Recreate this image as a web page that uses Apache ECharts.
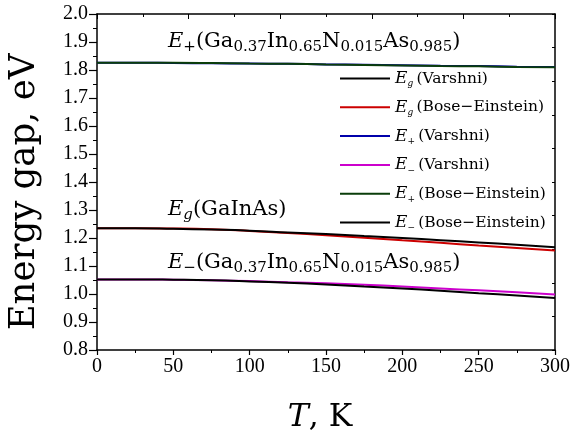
<!DOCTYPE html>
<html><head><meta charset="utf-8">
<script src="https://cdn.jsdelivr.net/npm/echarts@6/dist/echarts.min.js"></script>
<style>html,body{margin:0;padding:0;background:#fff}#c{width:572px;height:434px}</style>
</head><body><div id="c"></div>
<script>
const temps = [0, 25, 50, 75, 100, 125, 150, 175, 200, 225, 250, 275, 300];
const egVarshni = [1.235, 1.235, 1.233, 1.230, 1.226, 1.220, 1.214, 1.207, 1.200, 1.192, 1.184, 1.176, 1.167];
const egBose = [1.235, 1.235, 1.234, 1.231, 1.225, 1.218, 1.210, 1.201, 1.192, 1.183, 1.173, 1.164, 1.155];
const epVarshni = [1.826, 1.826, 1.825, 1.824, 1.823, 1.822, 1.820, 1.819, 1.817, 1.815, 1.814, 1.812, 1.811];
const emVarshni = [1.052, 1.052, 1.051, 1.049, 1.046, 1.042, 1.038, 1.033, 1.027, 1.020, 1.013, 1.006, 0.998];
const epBose = [1.826, 1.826, 1.826, 1.825, 1.823, 1.822, 1.820, 1.818, 1.816, 1.814, 1.813, 1.811, 1.810];
const emBose = [1.052, 1.052, 1.051, 1.049, 1.045, 1.040, 1.034, 1.027, 1.020, 1.012, 1.003, 0.995, 0.986];
const yTicks = ['0.8','0.9','1.0','1.1','1.2','1.3','1.4','1.5','1.6','1.7','1.8','1.9','2.0'];
const seriesNames = ['Eg (Varshni)', 'Eg (Bose-Einstein)', 'E+ (Varshni)', 'E- (Varshni)', 'E+ (Bose-Einstein)', 'E- (Bose-Einstein)'];
const legendLabels = {
  'Eg (Varshni)': '{i|E}{s|g} {t|(Varshni)}',
  'Eg (Bose-Einstein)': '{i|E}{s|g} {t|(Bose\u2212Einstein)}',
  'E+ (Varshni)': '{i|E}{s|+} {t|(Varshni)}',
  'E- (Varshni)': '{i|E}{s|\u2212} {t|(Varshni)}',
  'E+ (Bose-Einstein)': '{i|E}{s|+} {t|(Bose\u2212Einstein)}',
  'E- (Bose-Einstein)': '{i|E}{s|\u2212} {t|(Bose\u2212Einstein)}'
};
const colors = ['#000000', '#cc0000', '#0000aa', '#cc00cc', '#0a3d0a', '#000000'];
const zOrder = [10, 9, 7, 6, 8, 7];
const seriesData = [egVarshni, egBose, epVarshni, emVarshni, epBose, emBose];

const serif = '"Liberation Serif", "DejaVu Serif", serif';
const century = '"DejaVu Serif", "Liberation Serif", serif';
const chart = echarts.init(document.getElementById('c'));

function pairs(arr) { return temps.map((t, i) => [t, arr[i]]); }

const annRich = {
  i: {fontFamily: century, fontStyle: 'italic', fontSize: 21, lineHeight: 26, verticalAlign: 'middle'},
  m: {fontFamily: century, fontSize: 21, lineHeight: 26, verticalAlign: 'middle'},
  s: {fontFamily: century, fontSize: 15, lineHeight: 16, verticalAlign: 'bottom'},
  si: {fontFamily: century, fontStyle: 'italic', fontSize: 15, lineHeight: 16, verticalAlign: 'bottom'}
};
const compound = '{m|(Ga}{s|0.37}{m|In}{s|0.65}{m|N}{s|0.015}{m|As}{s|0.985}{m|)}';

const boxAxis = {
  axisLine: {show: true, onZero: false, lineStyle: {color: '#000', width: 1.5}},
  axisTick: {show: true, inside: true, length: 5, lineStyle: {color: '#000', width: 1}},
  minorTick: {show: true, splitNumber: 2, length: 3, lineStyle: {color: '#000', width: 1}},
  axisLabel: {show: false}, splitLine: {show: false}, minorSplitLine: {show: false}
};

chart.setOption({
  animation: false,
  backgroundColor: '#fff',
  grid: {left: 97, right: 17, top: 14, bottom: 84, containLabel: false, outerBoundsMode: 'none'},
  legend: {
    orient: 'vertical', left: 335, top: 65, itemWidth: 50, itemHeight: 14, itemGap: 10.3,
    icon: 'path://M0,6 L50,6 L50,8 L0,8 Z',
    data: seriesNames,
    formatter: n => legendLabels[n],
    textStyle: {
      color: '#000',
      rich: {
        i: {fontFamily: century, fontStyle: 'italic', fontSize: 17, lineHeight: 20, verticalAlign: 'middle'},
        s: {fontFamily: century, fontStyle: 'italic', fontSize: 9, lineHeight: 11, verticalAlign: 'bottom'},
        t: {fontFamily: century, fontSize: 15.5, lineHeight: 20, verticalAlign: 'middle'}
      }
    }
  },
  xAxis: [{
    type: 'value', min: 0, max: 300, interval: 50, position: 'bottom',
    name: '{i|T}{b|, K}', nameLocation: 'middle', nameGap: 52,
    nameTextStyle: {padding: [0, 12, 0, 0], rich: {
      i: {fontFamily: century, fontStyle: 'italic', fontSize: 31.5, color: '#000'},
      b: {fontFamily: century, fontSize: 31.5, color: '#000'}
    }},
    axisLine: {show: true, onZero: false, lineStyle: {color: '#000', width: 1.5}},
    axisTick: {show: true, inside: false, length: 5, lineStyle: {color: '#000', width: 1.2}},
    minorTick: {show: true, splitNumber: 2, length: 3, lineStyle: {color: '#000', width: 1}},
    axisLabel: {color: '#000', fontFamily: serif, fontSize: 20, margin: 7},
    splitLine: {show: false}
  }, Object.assign({type: 'value', min: 0, max: 300, interval: 60, position: 'top'}, boxAxis)],
  yAxis: [{
    type: 'value', min: 0.8, max: 2.0, interval: 0.1, position: 'left',
    name: 'Energy gap, eV', nameLocation: 'middle', nameGap: 54, nameRotate: 90,
    nameTextStyle: {fontFamily: century, fontSize: 35.5, color: '#000', padding: [0, 20, 0, 0]},
    axisLine: {show: true, onZero: false, lineStyle: {color: '#000', width: 1.5}},
    axisTick: {show: true, inside: false, length: 8, lineStyle: {color: '#000', width: 1.2}},
    minorTick: {show: true, splitNumber: 2, length: 4, lineStyle: {color: '#000', width: 1}},
    axisLabel: {color: '#000', fontFamily: serif, fontSize: 20, margin: 9, formatter: (v) => yTicks[Math.round((v - 0.8) * 10)]},
    splitLine: {show: false}
  }, Object.assign({type: 'value', min: 0, max: 10, interval: 1, position: 'right'}, boxAxis, {minorTick: {show: false}, axisTick: {show: true, inside: true, length: 3, lineStyle: {color: '#000', width: 1}}})],
  series: seriesNames.map((n, k) => ({
    name: n, type: 'line', xAxisIndex: 0, yAxisIndex: 0, data: pairs(seriesData[k]),
    showSymbol: false, smooth: true, color: colors[k],
    lineStyle: {color: colors[k], width: 2}, z: zOrder[k]
  })),
  graphic: [
    {type: 'text', left: 168, top: 31, z: 100, style: {text: '{i|E}{s|+}' + compound, rich: annRich, fill: '#000'}},
    {type: 'text', left: 168, top: 199, z: 100, style: {text: '{i|E}{si|g}{m|(GaInAs)}', rich: annRich, fill: '#000'}},
    {type: 'text', left: 168, top: 252, z: 100, style: {text: '{i|E}{s|\u2212}' + compound, rich: annRich, fill: '#000'}}
  ]
});
</script></body></html>
